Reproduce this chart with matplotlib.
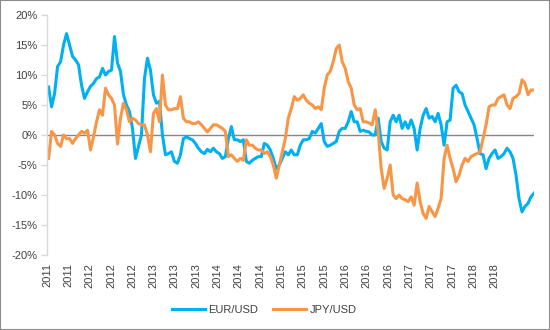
import matplotlib
matplotlib.use("Agg")
import matplotlib.pyplot as plt
import matplotlib.dates as mdates
from matplotlib.ticker import FuncFormatter
from matplotlib.patches import Rectangle
import numpy as np
import pandas as pd

# ---- data (percent) ----
eur_usd = [
    8.0, 4.7, 6.9, 11.4, 12.2, 15.0, 16.9, 15.0, 13.1, 12.5, 11.7, 8.3, 6.1, 7.2, 8.1, 8.6,
    9.4, 9.7, 11.1, 10.0, 10.6, 10.8, 16.4, 12.0, 10.6, 6.7, 5.0, 3.9, 1.1, -3.9, -1.9, 0.0,
    9.4, 12.8, 10.8, 6.7, 5.3, 5.6, 0.0, -3.3, -3.1, -2.8, -4.4, -4.7, -3.3, -0.6, -0.3, -0.6,
    -0.8, -1.4, -2.2, -2.8, -3.1, -2.4, -2.8, -2.2, -2.8, -3.1, -3.9, -3.6, -0.6, 1.4, -0.8, -0.8,
    -1.1, -0.8, -4.4, -4.7, -4.2, -3.9, -3.6, -3.6, -1.4, -1.7, -2.5, -3.9, -5.6, -5.0, -3.9, -2.8,
    -3.3, -2.5, -3.3, -3.3, -1.7, -0.8, -0.8, -0.6, 0.6, 0.3, 1.1, 1.9, -1.1, -1.9, -1.7, -1.4,
    -1.1, 0.6, 1.1, 1.1, 2.2, 3.9, 2.2, 2.2, 0.6, 0.8, 0.6, 0.5, 0.0, 0.0, 2.8, -1.1,
    -2.2, -2.5, 2.2, 3.3, 2.2, 3.3, 1.1, 2.2, 1.1, 2.5, 1.1, -2.5, 1.1, 3.3, 4.4, 2.8,
    3.1, 2.2, 3.6, 1.7, -1.7, 2.2, 2.5, 7.8, 8.3, 7.2, 6.9, 5.0, 3.9, 2.8, 1.7, -0.6,
    -3.1, -3.3, -5.6, -3.9, -3.1, -2.5, -3.9, -3.6, -3.1, -2.2, -2.8, -3.9, -6.7, -10.6, -12.8, -11.9,
    -11.4, -10.3, -9.7,
]
jpy_usd = [
    -3.9, 0.6, 0.0, -1.4, -1.9, 0.0, -0.6, -0.6, -1.4, -0.6, 0.0, 0.6, 0.3, 0.8, -2.5, -0.3,
    2.2, 4.2, 3.3, 7.8, 6.7, 6.1, 5.0, -1.5, 2.8, 5.3, 4.2, 2.2, 2.8, 2.5, 1.9, 1.7,
    1.7, 0.0, -2.8, 3.6, 4.4, 2.2, 10.0, 5.0, 4.2, 4.2, 4.4, 4.4, 6.4, 2.8, 2.2, 2.2,
    1.9, 1.9, 2.2, 1.7, 1.1, 0.5, 1.1, 1.7, 1.7, 1.4, 1.1, 0.6, -3.6, -3.3, -3.9, -4.4,
    -3.9, -4.2, -0.8, -1.7, -1.7, -2.2, -2.5, -2.5, -3.1, -2.8, -3.6, -5.0, -7.2, -5.0, -2.8, -0.6,
    2.8, 4.4, 6.4, 5.8, 6.1, 6.7, 5.8, 5.3, 5.0, 4.4, 4.7, 4.2, 7.8, 10.0, 10.6, 12.2,
    14.4, 15.0, 12.2, 11.1, 8.9, 7.8, 5.0, 4.2, 4.4, 2.2, 2.2, 2.0, 1.7, 4.2, 0.6, -5.6,
    -8.9, -7.2, -5.0, -10.0, -10.6, -10.0, -10.6, -10.8, -11.1, -10.3, -11.7, -8.0, -11.1, -13.1, -13.9, -11.9,
    -12.8, -13.6, -12.2, -10.6, -3.9, -1.7, -3.9, -5.6, -7.8, -6.7, -5.0, -3.9, -4.4, -3.6, -3.3, -3.1,
    -2.8, -0.6, 1.7, 4.7, 5.0, 5.0, 6.1, 6.4, 6.7, 5.0, 4.4, 6.1, 6.4, 6.9, 9.2, 8.6,
    6.7, 7.5, 7.5,
]
series_names = ["EUR/USD", "JPY/USD"]
first_date = "2011-07-10"
last_date = "2019-02-12"
tick_dates = pd.date_range("2011-07-01", periods=22, freq="4MS")
tick_labels = [str(d.year) for d in tick_dates]
y_ticks = [-20, -15, -10, -5, 0, 5, 10, 15, 20]

dates = pd.date_range(first_date, last_date, periods=len(eur_usd))

# ---- figure ----
plt.rcParams["font.family"] = ["Liberation Sans", "DejaVu Sans"]
fig = plt.figure(figsize=(5.5, 3.3), dpi=100)
ax = fig.add_axes([47 / 550, 1 - 255 / 330, (534 - 47) / 550, (255 - 15) / 330])

ax.plot(dates, eur_usd, color="#00B0F0", lw=2.2, label=series_names[0], solid_joinstyle="round")
ax.plot(dates, jpy_usd, color="#F79646", lw=2.2, label=series_names[1], solid_joinstyle="round")

ax.axhline(0, color="#868686", lw=1.0, zorder=1)

ax.set_ylim(-20, 20)
ax.set_yticks(y_ticks)
ax.yaxis.set_major_formatter(FuncFormatter(lambda v, p: f"{int(v)}%"))
ax.set_xlim(pd.Timestamp("2011-07-04"), pd.Timestamp(last_date))
ax.set_xticks(tick_dates)
ax.set_xticklabels(tick_labels, rotation=90)

for s in ["top", "right", "bottom"]:
    ax.spines[s].set_visible(False)
ax.spines["left"].set_color("#D9D9D9")
ax.spines["left"].set_linewidth(1.0)
ax.tick_params(axis="y", length=4, width=1, color="#D9D9D9", labelsize=8, pad=3, labelcolor="#404040")
ax.tick_params(axis="x", length=0, labelsize=8, pad=6, labelcolor="#404040")

fig.legend(loc="center", bbox_to_anchor=(0.48, 1 - 310 / 330), ncol=2, frameon=False,
           fontsize=8, handlelength=3.0, columnspacing=1.3, handletextpad=0.3,
           labelcolor="#404040")

fig.patches.append(Rectangle((0, 0), 1, 1, transform=fig.transFigure, fill=False,
                             edgecolor="#8C8C8C", lw=1.5))

fig.savefig("out.png", dpi=100)
